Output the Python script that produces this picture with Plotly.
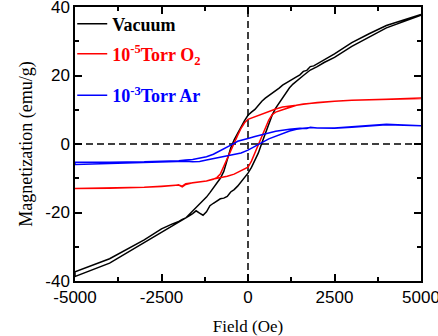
import plotly.graph_objects as go

# ---------------- data ----------------
# Vacuum loop: descending branch (+5000 -> -5000)
vac_down_H = [5000, 4000, 3500, 3000, 2500, 2200, 2000, 1900, 1800, 1700, 1600, 1500, 1400, 1300,
              1200, 1100, 1000, 900, 800, 700, 600, 500, 400, 300, 200, 100, 0, -100, -200, -300,
              -400, -500, -600, -700, -800, -900, -1000, -1100, -1200, -1300, -1400, -1500, -1600,
              -1700, -1800, -1900, -2000, -2200, -2500, -3000, -3500, -4000, -5000]
vac_down_M = [37.8, 34.6, 32.2, 29.6, 26.3, 24.6, 23.3, 22.8, 22.6, 21.5, 21.2, 20.2, 19.6, 19.0,
              18.4, 17.6, 17.2, 16.3, 15.6, 14.8, 14.2, 13.4, 12.5, 11.2, 10.1, 9.3, 8.4, 6.8, 5.0, 3.4,
              1.2, -1.2, -4.8, -8.0, -10.0, -11.5, -13.0, -14.2, -15.5, -16.5, -17.5, -18.5, -19.4,
              -20.4, -21.6, -22.0, -22.6, -23.4, -24.8, -28.0, -30.8, -33.5, -37.3]
# Vacuum loop: ascending branch (-5000 -> +5000)
vac_up_H = [-5000, -4000, -3500, -3000, -2500, -2200, -2000, -1900, -1800, -1700, -1600, -1500,
            -1400, -1300, -1200, -1100, -1000, -900, -800, -700, -600, -500, -400, -300, -200, -100,
            0, 100, 200, 300, 400, 500, 600, 700, 800, 900, 1000, 1100, 1200, 1300, 1400, 1500,
            1600, 1700, 1800, 2000, 2200, 2500, 3000, 3500, 4000, 5000]
vac_up_M = [-38.7, -34.8, -31.8, -29.0, -26.0, -24.0, -23.0, -22.3, -21.7, -21.0, -20.3, -19.5,
            -20.2, -20.8, -19.8, -18.0, -17.3, -16.6, -16.0, -15.8, -15.3, -14.0, -13.3, -12.3, -11.0, -9.8,
            -8.5, -6.8, -4.8, -2.6, 0.3, 3.2, 6.0, 8.5, 10.5, 12.0, 13.6, 15.0, 16.4, 17.5, 18.4, 19.2,
            20.0, 20.8, 21.6, 22.6, 23.8, 25.3, 28.5, 31.2, 33.9, 37.6]

# 1e-5 Torr O2 loop
o2_down_H = [5000, 4000, 3000, 2500, 2000, 1800, 1600, 1400, 1200, 1000, 800, 600, 400, 200, 0,
             -100, -200, -300, -400, -500, -600, -700, -800, -900, -1000, -1200, -1400, -1600,
             -1800, -1900, -2000, -2500, -3000, -4000, -5000]
o2_down_M = [13.3, 13.1, 12.8, 12.5, 12.1, 11.9, 11.7, 11.3, 11.1, 10.8, 10.2, 9.4, 8.6, 7.9, 7.2,
             6.2, 4.6, 2.5, 0.2, -2.0, -4.4, -6.8, -8.8, -9.8, -10.3, -10.8, -11.0, -11.2,
             -11.6, -12.3, -12.0, -12.3, -12.6, -12.9, -13.0]
o2_up_H = [-5000, -4000, -3000, -2500, -2000, -1900, -1800, -1600, -1400, -1200, -1000, -800,
           -600, -400, -200, 0, 100, 200, 300, 400, 500, 600, 700, 800, 1000, 1200, 1400, 1600,
           1800, 2000, 2500, 3000, 4000, 5000]
o2_up_M = [-13.0, -12.9, -12.6, -12.4, -12.0, -12.5, -11.8, -11.3, -11.0, -10.8, -10.2, -9.9,
           -9.4, -8.8, -7.8, -6.8, -5.0, -2.6, -0.2, 2.2, 4.6, 7.0, 8.6, 9.3, 10.0, 10.7, 11.3, 11.6,
           11.9, 12.1, 12.5, 12.8, 13.1, 13.4]

# 1e-3 Torr Ar loop
ar_down_H = [5000, 4500, 4000, 3500, 3000, 2500, 2000, 1800, 1700, 1500, 1200, 1000, 800, 600,
             400, 200, 0, -200, -300, -400, -500, -600, -800, -1000, -1200, -1400, -1600, -1800,
             -2000, -2500, -3000, -4000, -5000]
ar_down_M = [5.3, 5.5, 5.8, 5.4, 5.0, 4.7, 4.7, 4.9, 4.5, 4.6, 4.3, 4.1, 3.7, 3.2,
             2.8, 2.2, 1.6, 1.1, 0.8, 0.2, -0.3, -0.9, -2.0, -3.0, -3.7, -4.2, -4.5, -4.7,
             -4.9, -5.0, -5.2, -5.3, -5.3]
ar_up_H = [-5000, -4000, -3000, -2500, -2000, -1800, -1600, -1400, -1200, -1000, -800, -600,
           -400, -200, 0, 200, 400, 600, 800, 1000, 1200, 1400, 1600, 1800, 2000, 2500, 3000,
           4000, 5000]
ar_up_M = [-6.0, -5.7, -5.4, -5.2, -5.1, -5.0, -5.2, -5.1, -4.7, -4.3, -3.7, -3.3,
           -3.0, -2.6, -1.8, -0.8, 0.4, 1.5, 2.3, 3.2, 3.8, 4.3, 4.6, 4.8, 4.7, 4.6, 4.9,
           5.6, 5.3]

series_names = ["Vacuum",
                "10<sup>-5</sup>Torr O<sub>2</sub>",
                "10<sup>-3</sup>Torr Ar"]
series_colors = ["#000000", "#ff0000", "#0000ff"]

x_ticks = [-5000, -2500, 0, 2500, 5000]
y_ticks = [-40, -20, 0, 20, 40]

# ---------------- figure ----------------
loops = [(vac_down_H + vac_up_H, vac_down_M + vac_up_M),
         (o2_down_H + o2_up_H, o2_down_M + o2_up_M),
         (ar_down_H + ar_up_H, ar_down_M + ar_up_M)]
legend_ids = ["legend", "legend2", "legend3"]
legend_y = [0.938, 0.828, 0.677]

fig = go.Figure()
for (hx, my), name, col, lid in zip(loops, series_names, series_colors, legend_ids):
    fig.add_trace(go.Scatter(
        x=hx, y=my, mode="lines",
        name=f'<span style="color:{col}">{name}</span>',
        legend=lid,
        line=dict(color=col, width=1.5),
    ))

fig.add_vline(x=0, line=dict(color="black", width=1.5, dash="7px,4px"), layer="below")
fig.add_hline(y=0, line=dict(color="black", width=1.5, dash="7px,4px"), layer="below")

tickfont = dict(family="Liberation Sans, Arial, sans-serif", size=17, color="black")
xtitlefont = dict(family="Liberation Serif, Times New Roman, serif", size=17, color="black")
ytitlefont = dict(family="Liberation Serif, Times New Roman, serif", size=18, color="black")
legfont = dict(family="Liberation Serif, Times New Roman, serif", size=18,
               color="black", weight="bold")

legend_layout = {}
for lid, ly in zip(legend_ids, legend_y):
    legend_layout[lid] = dict(x=-0.008, y=ly, xanchor="left", yanchor="middle",
                              bgcolor="rgba(0,0,0,0)", borderwidth=0, font=legfont)

fig.update_layout(
    width=438, height=336,
    margin=dict(l=75, r=17, t=7, b=55, autoexpand=False),
    paper_bgcolor="white", plot_bgcolor="white",
    showlegend=True,
    **legend_layout,
)

fig.update_xaxes(
    range=[-5000, 5000], tickvals=x_ticks, ticktext=[str(v) for v in x_ticks],
    ticks="inside", ticklen=7, tickwidth=1.5, tickcolor="black",
    showline=True, linecolor="black", linewidth=1.5, mirror="ticks",
    showgrid=False, zeroline=False, tickfont=tickfont, automargin=False,
    ticklabeloverflow="allow",
    minor=dict(ticks="inside", ticklen=4, tickwidth=1.5, tickcolor="black", dtick=1250,
               tick0=0, showgrid=False),
    title=dict(text="Field (Oe)", font=xtitlefont, standoff=14),
)
fig.update_yaxes(
    range=[-40, 40], tickvals=y_ticks, ticktext=[str(v) for v in y_ticks],
    ticks="inside", ticklen=7, tickwidth=1.5, tickcolor="black",
    showline=True, linecolor="black", linewidth=1.5, mirror="ticks",
    showgrid=False, zeroline=False, tickfont=tickfont, automargin=False,
    ticklabeloverflow="allow",
    minor=dict(ticks="inside", ticklen=4, tickwidth=1.5, tickcolor="black", dtick=10,
               tick0=0, showgrid=False),
    title=dict(text="Magnetization (emu/g)", font=ytitlefont, standoff=8),
)

fig.write_html("out.html",
               config={"displayModeBar": False},
               post_script="document.body.style.margin='0';document.body.style.overflow='hidden';")
